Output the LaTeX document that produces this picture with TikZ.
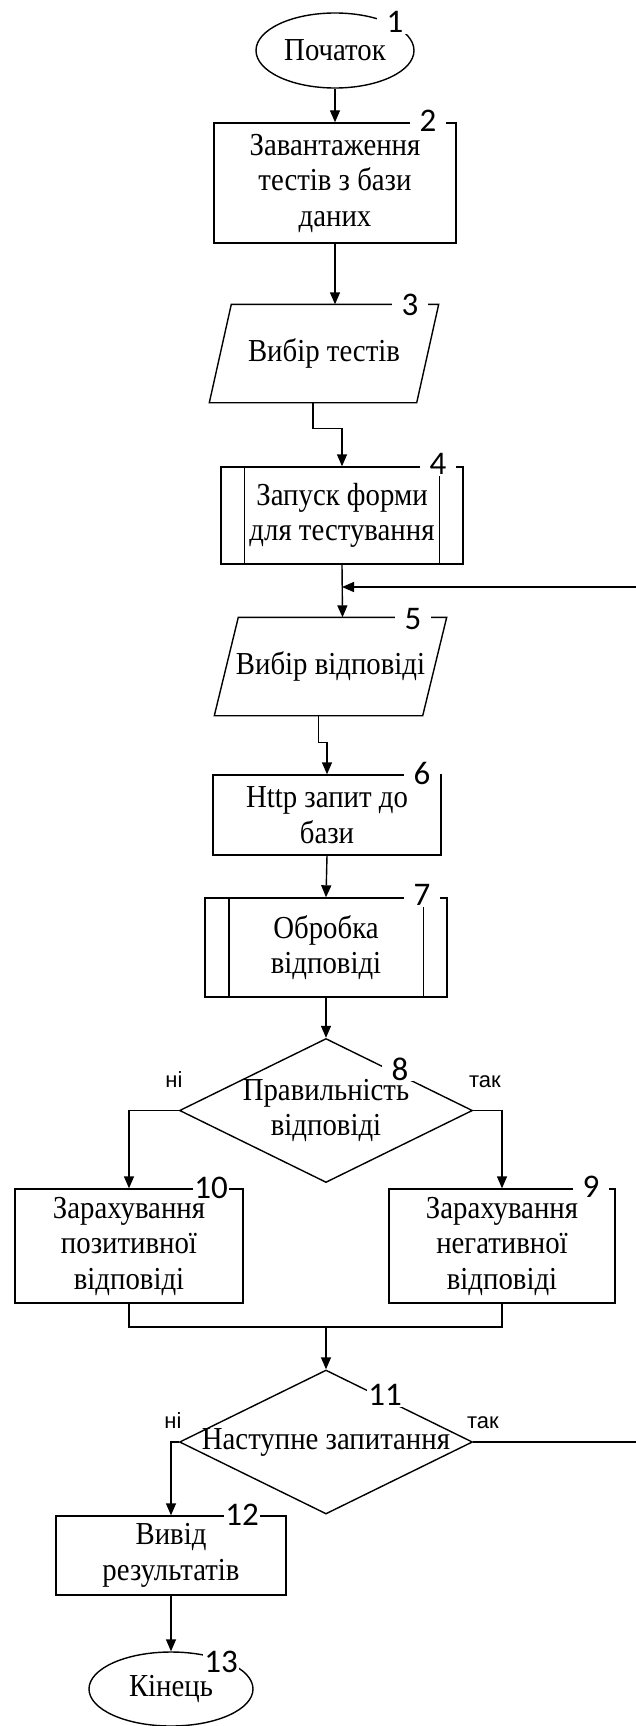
\documentclass[tikz,border=0pt]{standalone}
\usepackage{fontspec}
\setmainfont{Liberation Serif}[FakeStretch=0.9]
\newfontfamily\numfont{Carlito}
\newfontfamily\ansfont{Liberation Sans}
\usetikzlibrary{shapes.geometric,arrows.meta}

\tikzset{
  blok/.style={draw, rectangle, align=center, inner sep=0pt},
  term/.style={draw, ellipse, inner sep=0pt, minimum width=158pt, minimum height=75pt},
  inout/.style={rectangle, inner sep=0pt, minimum width=206pt, minimum height=97pt, align=center},
  choice/.style={draw, diamond, inner sep=0pt, minimum width=293pt, minimum height=144pt},
  num/.style={fill=white, inner sep=1pt, minimum width=36pt, font=\fontsize{33}{33}\numfont},
  ans/.style={anchor=base, inner sep=0pt, font=\fontsize{22}{22}\ansfont}
}

\begin{document}
\begin{tikzpicture}[x=1pt, y=-1pt, line width=1.4pt, >={Triangle[length=12pt,width=10pt]},
  every node/.style={font=\fontsize{32}{35.5}\selectfont}]
  \useasboundingbox (0,0) rectangle (635,1726);

  \node[term] (start) at (335,50.5) {Початок};
  \node[blok, minimum width=242pt, minimum height=120pt] (load) at (335,183)
    {Завантаження\\тестів з бази\\даних};
  \node[inout] (pick) at (324,353.5) {Вибір тестів};
  \node[blok, minimum width=242pt, minimum height=97pt] (form) at (342,515.5)
    {Запуск форми\\для тестування};
  \draw ([xshift=24pt]form.north west) -- ([xshift=24pt]form.south west);
  \draw ([xshift=-24pt]form.north east) -- ([xshift=-24pt]form.south east);
  \coordinate (back) at (342,587);
  \node[inout, minimum width=207pt] (answer) at (330.5,666.5) {Вибір відповіді};
  \foreach \n/\s in {pick/11pt, answer/12pt}
    \draw ([xshift=\s]\n.north west) -- ([xshift=\s]\n.north east)
      -- ([xshift=-\s]\n.south east) -- ([xshift=-\s]\n.south west) -- cycle;
  \node[blok, minimum width=228pt, minimum height=80pt] (http) at (327,815)
    {Http запит до\\бази};
  \node[blok, minimum width=242pt, minimum height=99pt] (proc) at (326,947.5)
    {Обробка\\відповіді};
  \draw ([xshift=24.5pt]proc.north west) -- ([xshift=24.5pt]proc.south west);
  \draw ([xshift=-24.5pt]proc.north east) -- ([xshift=-24.5pt]proc.south east);
  \node[choice] (check) at (326,1110.5) {};
  \node[blok, minimum width=228pt, minimum height=114pt] (plus) at (129,1246)
    {Зарахування\\позитивної\\відповіді};
  \node[blok, minimum width=226pt, minimum height=114pt] (minus) at (502,1246)
    {Зарахування\\негативної\\відповіді};
  \coordinate (join) at (326,1327);
  \node[choice] (next) at (326,1442) {};
  \node[blok, minimum width=230pt, minimum height=79pt] (result) at (171,1555.5)
    {Вивід\\результатів};
  \node[term, minimum width=164pt, minimum height=74pt] (finish) at (171,1689) {Кінець};

  \draw[->] (start.south) -- (load.north);
  \draw[->] (load.south) -- ([xshift=11pt]pick.north);
  \draw[->] ([xshift=-11pt]pick.south) -- ++(0,26) -| (form.north);
  \draw[->] (form.south) -- ([xshift=12pt]answer.north);
  \draw[->] ([xshift=-12pt]answer.south) -- ++(0,27) -| (http.north);
  \draw[->] (http.south) -- (proc.north);
  \draw[->] (proc.south) -- (check.north);
  \draw[->] (check.west) -| (plus.north);
  \draw[->] (check.east) -| (minus.north);
  \draw (plus.south) |- (join) -| (minus.south);
  \draw[->] (join) -- (next.north);
  \draw[->] (next.west) -| (result.north);
  \draw[->] (result.south) -- (finish.north);
  \draw[->] (next.east) -- ++(166,0) |- (back);

  \node[ans] (no8) at (174,1087) {ні};
  \node[ans] (yes8) at (485,1087) {так};
  \node[ans] (no11) at (173,1428) {ні};
  \node[ans] (yes11) at (483,1428) {так};

  \node[num] (n1) at (395,22) {1};
  \node[num] (n2) at (428,121) {2};
  \node[num] (n3) at (410,305) {3};
  \node[num] (n4) at (438,464) {4};
  \node[num] (n5) at (413,619) {5};
  \node[num] (n6) at (422,773) {6};
  \node[num] (n7) at (422,895) {7};
  \node[num] (n8) at (400,1069) {8};
  \node[num] (n9) at (591,1187) {9};
  \node[num] (n10) at (211,1188) {10};
  \node[num] (n11) at (385,1395) {11};
  \node[num] (n12) at (242,1515) {12};
  \node[num] (n13) at (221,1662) {13};

  \node[align=center, inner sep=0pt] (t8) at (check) {Правильність\\відповіді};
  \node[inner sep=0pt] (t11) at (next) {Наступне запитання};
\end{tikzpicture}
\end{document}
